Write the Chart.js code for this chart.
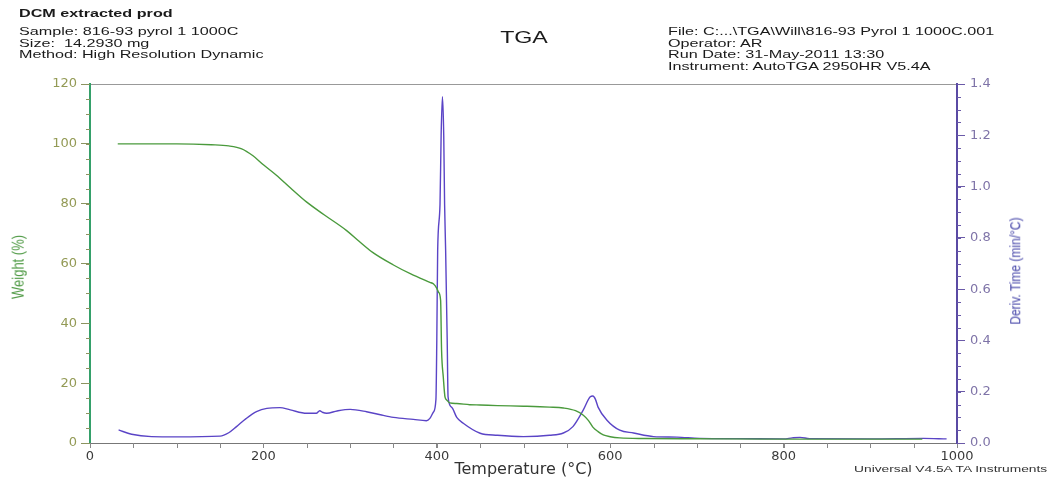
<!DOCTYPE html>
<html>
<head>
<meta charset="utf-8">
<title>TGA</title>
<script src="https://cdn.jsdelivr.net/npm/chart.js@4.4.1/dist/chart.umd.min.js"></script>
<style>
  body { margin:0; background:#fff; }
  #wrap { position:relative; width:1050px; height:481px; overflow:hidden;
          font-family:"Liberation Sans", Arial, sans-serif; color:#1a1a1a; }
  #wrap canvas { position:absolute; left:0; top:0; }
  .hd { position:absolute; font-size:11px; line-height:11.5px; white-space:nowrap;
        transform:scaleX(1.47); transform-origin:0 0; }
  #ttl { position:absolute; left:524px; top:38px; font-size:16px; white-space:nowrap;
         transform:translate(-50%,-50%) scaleX(1.45); }
  #foot { position:absolute; right:3px; top:463px; font-size:9.5px; white-space:nowrap;
          transform:scaleX(1.45); transform-origin:100% 0; color:#333; }
  .ytl { position:absolute; white-space:nowrap; line-height:1;
         transform:translate(-50%,-50%) scaleX(1.25) rotate(-90deg); }
</style>
</head>
<body>
<div id="wrap">
  <canvas id="tga" width="1050" height="481"></canvas>
  <div class="hd" style="left:19px;top:8px;font-weight:bold;">DCM extracted prod</div>
  <div class="hd" style="left:19px;top:26px;">Sample: 816-93 pyrol 1 1000C<br>Size:&nbsp; 14.2930 mg<br>Method: High Resolution Dynamic</div>
  <div id="ttl">TGA</div>
  <div class="hd" style="left:668px;top:26px;">File: C:...\TGA\Will\816-93 Pyrol 1 1000C.001<br>Operator: AR<br>Run Date: 31-May-2011 13:30<br>Instrument: AutoTGA 2950HR V5.4A</div>
  <div class="ytl" style="left:18px;top:267px;font-size:13px;color:#4f9a45;">Weight (%)</div>
  <div class="ytl" style="left:1015px;top:271px;font-size:12px;color:#4444a8;">Deriv. Time (min/°C)</div>
  <div id="foot">Universal V4.5A TA Instruments</div>
</div>
<script>
// weight curve (left axis, %)
var tempW = [32, 60, 100, 140, 160, 175, 188, 200, 215, 231,
             250, 270, 296, 310, 326, 350, 370, 392, 396, 400,
             402, 404.4, 405.5, 407.5, 409.5, 411.4, 415, 423, 438, 450,
             470, 500, 530, 546, 560, 569, 575, 580, 586, 592,
             600, 611, 640, 700, 800, 900, 960];
var weightPct = [100, 100, 100, 99.7, 99.3, 98.3, 96, 93, 89.5, 85.3,
                 80.5, 76.3, 71, 67.5, 63.7, 59.5, 56.5, 53.7, 53.2, 51.7,
                 50.4, 47.7, 31, 22, 15.3, 14.4, 13.4, 13.2, 12.8, 12.7,
                 12.5, 12.3, 12, 11.7, 10.8, 9.3, 7.5, 5.3, 3.8, 2.7,
                 2.1, 1.7, 1.5, 1.4, 1.3, 1.3, 1.3];

// deriv. time curve (right axis, min/°C)
var tempD = [33, 48, 71, 100, 150, 160, 169, 180, 192, 204,
             219, 231, 250, 261, 265, 268, 273, 285, 300, 319,
             335, 350, 373, 388, 392, 396, 399, 400, 401, 403.7,
             405, 406.5, 408, 409, 410.2, 412, 413, 417, 423, 430.5,
             450, 470, 500, 530, 546, 557, 569, 577, 580, 583,
             586, 596, 611, 627, 650, 677, 703, 750, 800, 810,
             819, 830, 900, 961, 988];
var derivVal = [0.051, 0.034, 0.025, 0.024, 0.027, 0.04, 0.064, 0.095, 0.122, 0.135,
                0.138, 0.129, 0.116, 0.116, 0.126, 0.12, 0.116, 0.125, 0.131, 0.122,
                0.11, 0.1, 0.092, 0.087, 0.096, 0.12, 0.17, 0.4, 0.75, 0.93,
                1.2, 1.35, 1.2, 0.93, 0.75, 0.4, 0.18, 0.14, 0.1, 0.077,
                0.038, 0.03, 0.025, 0.03, 0.039, 0.064, 0.129, 0.18, 0.183, 0.17,
                0.14, 0.09, 0.05, 0.039, 0.025, 0.023, 0.018, 0.017, 0.016, 0.02,
                0.022, 0.017, 0.016, 0.018, 0.016];

// axis ranges: [min, max, major step, minor step]
var xRange = [0, 1000, 200, 50];
var yRange = [0, 120, 20, 5];
var y1Range = [0, 1.4, 0.2, 0.05];

function pairs(xs, ys) {
  return xs.map(function (t, i) { return {x: t, y: ys[i]}; });
}

// short minor ticks between the labelled ones
var minorTicks = {
  id: 'minorTicks',
  afterDraw: function (chart) {
    var c = chart.ctx;
    var sx = chart.scales.x, sy = chart.scales.y, sy1 = chart.scales.y1;
    c.save();
    c.lineWidth = 1;
    c.strokeStyle = '#888';
    for (var v = xRange[0]; v <= xRange[1]; v += xRange[3]) {
      var px = Math.round(sx.getPixelForValue(v)) + 0.5;
      c.beginPath(); c.moveTo(px, sx.top); c.lineTo(px, sx.top + 5); c.stroke();
    }
    c.strokeStyle = '#8c9460';
    for (var k = 0; k * yRange[3] <= yRange[1]; k++) {
      var py = Math.round(sy.getPixelForValue(k * yRange[3])) + 0.5;
      c.beginPath(); c.moveTo(sy.right, py); c.lineTo(sy.right - 4, py); c.stroke();
    }
    c.strokeStyle = '#6a5aa8';
    for (var j = 0; j * y1Range[3] <= y1Range[1] + 1e-9; j++) {
      var py1 = Math.round(sy1.getPixelForValue(j * y1Range[3])) + 0.5;
      c.beginPath(); c.moveTo(sy1.left, py1); c.lineTo(sy1.left + 4, py1); c.stroke();
    }
    c.restore();
  }
};

const ctx = document.getElementById('tga');
new Chart(ctx, {
  type: 'line',
  data: {
    datasets: [
      {
        label: 'Weight (%)',
        data: pairs(tempW, weightPct),
        yAxisID: 'y',
        borderColor: '#4a9a3c',
        borderWidth: 1.4,
        pointRadius: 0,
        cubicInterpolationMode: 'monotone',
        fill: false
      },
      {
        label: 'Deriv. Time (min/°C)',
        data: pairs(tempD, derivVal),
        yAxisID: 'y1',
        borderColor: '#5a44c6',
        borderWidth: 1.4,
        pointRadius: 0,
        cubicInterpolationMode: 'monotone',
        fill: false
      }
    ]
  },
  options: {
    responsive: false,
    animation: false,
    devicePixelRatio: 1,
    layout: { padding: { top: 84, left: 0, right: 0, bottom: 0 } },
    plugins: { legend: { display: false }, tooltip: { enabled: false } },
    scales: {
      x: {
        type: 'linear', position: 'bottom',
        min: xRange[0], max: xRange[1],
        afterFit: function (s) { s.height = 38; },
        grid: { drawOnChartArea: false, tickLength: 5, color: '#888' },
        border: { color: '#777', width: 1 },
        ticks: { stepSize: xRange[2], padding: 1, color: '#3a3a3a', maxRotation: 0,
                 font: { family: 'DejaVu Sans', size: 13 },
                 callback: function (v) { return String(v); } },
        title: { display: true, text: 'Temperature (°C)', color: '#333',
                 font: { family: 'DejaVu Sans', size: 16 }, padding: { top: 0, bottom: 2 } }
      },
      xTop: {
        type: 'linear', position: 'top', min: xRange[0], max: xRange[1],
        afterFit: function (s) { s.height = 0; },
        grid: { drawOnChartArea: false, drawTicks: false },
        border: { color: '#999', width: 1 },
        ticks: { display: false }
      },
      y: {
        type: 'linear', position: 'left',
        min: yRange[0], max: yRange[1],
        afterFit: function (s) { s.width = 90; },
        grid: { drawOnChartArea: false, tickLength: 9, color: '#8c9460' },
        border: { color: '#35a06a', width: 2 },
        ticks: { stepSize: yRange[2], padding: 4, color: '#939a55', autoSkip: false,
                 font: { family: 'DejaVu Sans', size: 13 } }
      },
      y1: {
        type: 'linear', position: 'right',
        min: y1Range[0], max: y1Range[1],
        afterFit: function (s) { s.width = 93; },
        grid: { drawOnChartArea: false, tickLength: 8, color: '#6a5aa8' },
        border: { color: '#5a4aa4', width: 2 },
        ticks: { stepSize: y1Range[2], padding: 5, color: '#7f74a8', autoSkip: false,
                 font: { family: 'DejaVu Sans', size: 13 },
                 callback: function (v) { return v.toFixed(1); } }
      }
    }
  },
  plugins: [minorTicks]
});
</script>
</body>
</html>
